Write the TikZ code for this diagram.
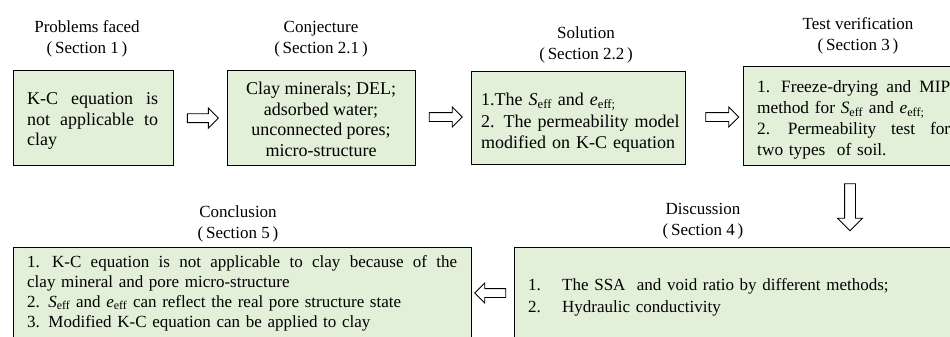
\documentclass[tikz,border=0pt]{standalone}
\usepackage{fontspec}
\setmainfont{Liberation Serif}
\usetikzlibrary{shapes.arrows,calc}
\definecolor{boxgreen}{RGB}{226,239,217}
\begin{document}
\begin{tikzpicture}[x=1pt,y=-1pt,
  box/.style={draw=black, line width=1.3pt, fill=boxgreen, rectangle, inner sep=0pt, anchor=north west},
  txt/.style={inner sep=0pt, anchor=north west, font=\fontsize{17}{20}\selectfont, align=left},
  utxt/.style={inner sep=0pt, anchor=north west, font=\fontsize{18}{21}\selectfont, align=left},
  ctxt/.style={inner sep=0pt, anchor=north, font=\fontsize{18}{20.5}\selectfont, align=center},
  ttl/.style={inner sep=0pt, anchor=north, font=\fontsize{17}{21}\selectfont, align=center},
  barrow/.style={single arrow, draw=black, line width=0.9pt, fill=white, inner sep=4pt,
    single arrow head extend=5.5pt, single arrow tip angle=90, minimum height=31pt}
]
\useasboundingbox (0,0) rectangle (950,337);
\clip (0,0) rectangle (950,337);

% boxes
\node[box, minimum width=160pt, minimum height=95pt] (b1) at (13,70) {};
\node[box, minimum width=188pt, minimum height=95pt] (b2) at (227,70) {};
\node[box, minimum width=214pt, minimum height=93pt] (b3) at (471,71) {};
\node[box, minimum width=260pt, minimum height=99pt] (b4) at (743,66) {};
\node[box, minimum width=458pt, minimum height=150pt] (b5) at (13,247) {};
\node[box, minimum width=500pt, minimum height=150pt] (b6) at (514,247) {};

% titles
\node[ttl] (t1) at (87,20) {\rule{0pt}{12pt}Problems faced\\(\,Section 1\,)};
\node[ttl] (t2) at (321,20) {\rule{0pt}{12pt}Conjecture\\(\,Section 2.1\,)};
\node[ttl] (t3) at (586,26) {\rule{0pt}{12pt}Solution\\(\,Section 2.2\,)};
\node[ttl] (t4) at (858,17) {\rule{0pt}{12pt}Test verification\\(\,Section 3\,)};
\node[ttl] (t5) at (238,205) {\rule{0pt}{12pt}Conclusion\\(\,Section 5\,)};
\node[ttl] (t6) at (703,202) {\rule{0pt}{12pt}Discussion\\(\,Section 4\,)};

% box texts
\node[utxt, text width=131pt, font=\fontsize{18}{20.5}\selectfont] (x1) at (27,92) {\rule{0pt}{12.5pt}K-C \hfill equation \hfill is\\not \hfill applicable \hfill to\\clay};
\node[ctxt] (x2) at (321,82) {\rule{0pt}{12.5pt}Clay minerals; DEL;\\adsorbed water;\\unconnected pores;\\micro-structure};
\node[utxt, text width=205pt, font=\fontsize{18}{21.5}\selectfont] (x3) at (481,93) {\rule{0pt}{12.5pt}1.The \textit{S}\textsubscript{eff} and \textit{e}\textsubscript{eff;}\\2. The permeability model\\modified on K-C equation};
\node[utxt, text width=193pt, font=\fontsize{17.3}{21}\selectfont] (x4) at (757,80) {\rule{0pt}{12.5pt}1. \hfill Freeze-drying \hfill and \hfill MIP\\method for \textit{S}\textsubscript{eff} and \textit{e}\textsubscript{eff;}\\2. \hfill Permeability \hfill test \hfill for\\two types\ \ of soil.};
\node[txt, text width=430pt] (x5) at (27,255) {\rule{0pt}{12pt}1. \hfill K-C \hfill equation \hfill is \hfill not \hfill applicable \hfill to \hfill clay \hfill because \hfill of \hfill the\\clay mineral and pore micro-structure\\2. \textit{S}\textsubscript{eff} and \textit{e}\textsubscript{eff} can reflect the real pore structure state\\3. Modified K-C equation can be applied to clay};
\node[txt, text width=380pt, font=\fontsize{17}{22}\selectfont] (x6) at (528,278) {\rule{0pt}{12pt}\makebox[34pt][l]{1.}The SSA\ \ and void ratio by different methods;\\\makebox[34pt][l]{2.}Hydraulic conductivity};

% arrows
\node[barrow] (a1) at ($(b1.east)!0.5!(b2.west)$) {};
\node[barrow, minimum height=33pt] (a2) at (443.5,117) {};
\node[barrow, minimum height=33pt] (a3) at (720,117) {};
\node[barrow, minimum height=47pt, inner sep=5pt, single arrow head extend=7pt, rotate=-90] (a4) at (850,204.5) {};
\node[barrow, rotate=180] (a5) at (492.5,293) {};
\end{tikzpicture}
\end{document}
